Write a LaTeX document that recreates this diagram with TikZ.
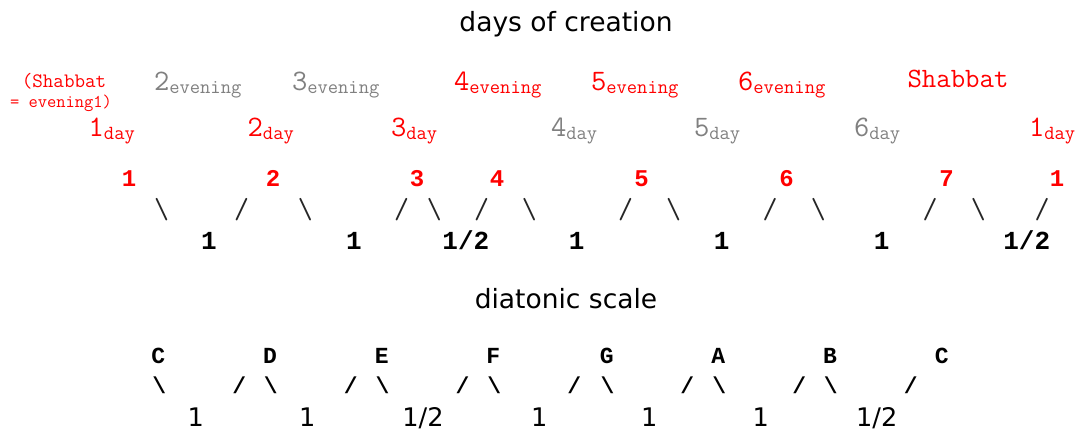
\documentclass[tikz,border=0pt]{standalone}
\usepackage{fontspec}
\setmainfont{DejaVu Sans}
\newfontfamily\mono{Liberation Mono}
\newcommand\fwd{/}
\newcommand\bck{\textbackslash}
\definecolor{myred}{RGB}{255,0,0}
\definecolor{mygray}{RGB}{128,128,128}
\newcommand\fs[1]{\fontsize{#1}{#1}\selectfont}
\newcommand\lab[2]{{\fs{29.7}#1}\raisebox{-3.5pt}{\fs{20}#2}}
\tikzset{
  txt/.style={inner sep=0pt, outer sep=0pt, anchor=base},
  title/.style={txt, font=\fs{26.5}},
  lbl/.style={txt, anchor=base west, font=\ttfamily},
  rednum/.style={txt, font=\mono\bfseries\fs{24}, text=myred},
  thinslash/.style={txt, font=\ttfamily\fs{29}, text=black!85},
  step1/.style={txt, font=\mono\bfseries\fs{26}, text=black},
  note/.style={txt, font=\mono\bfseries\fs{23}, text=black},
  boldslash/.style={txt, font=\mono\bfseries\fs{23}, text=black},
  interval/.style={txt, font=\fs{25.6}, text=black},
}
\begin{document}
\begin{tikzpicture}[x=1pt,y=-1pt]
\useasboundingbox (0,0) rectangle (1079,433);
% titles
\node[title] (t1) at (566,31.7) {days of creation};
\node[title] (t2) at (566,308) {diatonic scale};
% evening row
\node[txt, font=\ttfamily\fs{20.5}, text=myred] (sh1) at (64,87.7) {(Shabbat};
\node[txt, font=\ttfamily\fs{18}, text=myred] (sh2) at (61,107.3) {= evening1)};
\foreach \d/\x/\c in {2/157/mygray, 3/295/mygray, 4/457/myred, 5/594/myred, 6/741/myred}
  \node[lbl, text=\c] (ev\d) at (\x-3,90.5) {\lab{\d}{evening}};
\node[txt, font=\ttfamily\fs{28}, text=myred] (shab) at (958,88) {Shabbat};
% day row
\foreach \n/\d/\x/\c in {a/1/91.7/myred, b/2/250.7/myred, c/3/394/myred, d/4/554/mygray, e/5/697/mygray, f/6/857/mygray, g/1/1032/myred}
  \node[lbl, text=\c] (day\n) at (\x-3,136.5) {\lab{\d}{day}};
% numbered days
\foreach \n/\d/\x in {a/1/129, b/2/273, c/3/417, d/4/497, e/5/641.5, f/6/786.5, g/7/946.5, h/1/1057}
  \node[rednum] (n\n) at (\x,186.5) {\d};
% thin slashes
\foreach \n/\s/\x in {a/\bck/161.7, b/\fwd/241.7, c/\bck/305.3, d/\fwd/401.7, e/\bck/434.3, f/\fwd/481.7, g/\bck/529.3, h/\fwd/625.7, i/\bck/673.7, j/\fwd/770, k/\bck/818.3, l/\fwd/930, m/\bck/978.3, n/\fwd/1042}
  \node[thinslash] (s\n) at (\x,218.5) {\s};
% steps
\foreach \n/\v/\x in {a/1/209, b/1/353.8, c/1\fwd 2/465.8, d/1/576.7, e/1/721.7, f/1/881.7, g/1\fwd 2/1026.7}
  \node[step1] (st\n) at (\x,249.3) {\v};
% diatonic notes
\foreach \n/\v/\x in {a/C/158.3, b/D/270, c/E/381.7, d/F/493.3, e/G/606.7, f/A/718.3, g/B/830, h/C/941.7}
  \node[note] (no\n) at (\x,363.3) {\v};
% bold slashes
\foreach \n/\s/\x in {a/\bck/159.2, b/\fwd/239.2, c/\bck/270.8, d/\fwd/350.8, e/\bck/382.5, f/\fwd/462.5, g/\bck/494.2, h/\fwd/574.2, i/\bck/607.5, j/\fwd/687.2, k/\bck/719.2, l/\fwd/799.2, m/\bck/830.8, n/\fwd/910.8}
  \node[boldslash] (bs\n) at (\x,393.5) {\s};
% intervals
\foreach \n/\v/\x in {a/1/195.8, b/1/307.2, c/1\fwd 2/423, d/1/539.2, e/1/649.2, f/1/760.8, g/1\fwd 2/876.7}
  \node[interval] (iv\n) at (\x,426.7) {\v};
\end{tikzpicture}
\end{document}
